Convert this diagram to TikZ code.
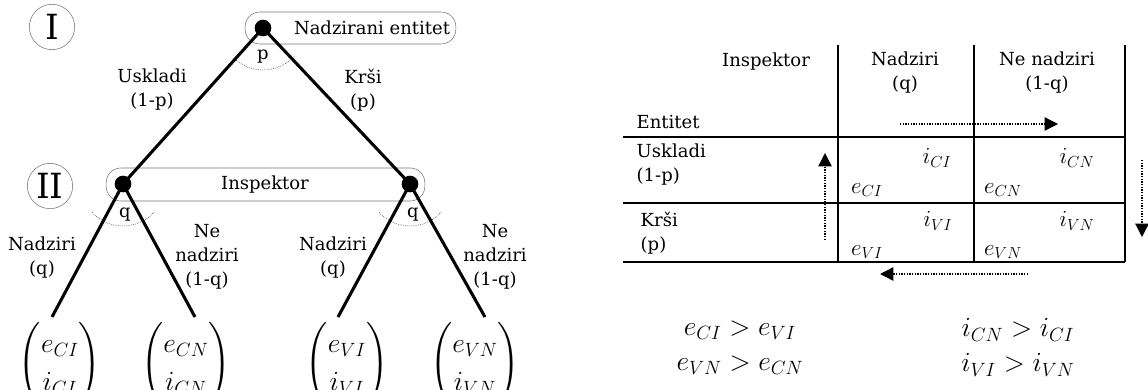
\documentclass[tikz,border=0pt]{standalone}
\usepackage{amsmath,amssymb}
\usepackage{fontspec}
\setmainfont{DejaVu Serif}
\usetikzlibrary{arrows.meta}

\begin{document}
\begin{tikzpicture}[x=0.75pt, y=-0.75pt,
	every node/.style={font=\fontsize{13.5}{18}\selectfont, align=center},
	player/.style={draw=black!55, circle, minimum size=34pt, inner sep=0pt, font=\fontsize{26}{26}\selectfont},
	infobox/.style={draw=black!55, rounded corners=11pt, inner sep=0pt},
	dot/.style={circle, fill=black, inner sep=0pt, minimum size=12.5pt},
	branch/.style={line width=2.3pt},
	turn/.style={densely dotted, thin},
	payoff/.style={font=\fontsize{21}{25}\selectfont},
	rule/.style={line width=1.9pt},
	cell/.style={font=\fontsize{17}{20}\selectfont},
	flow/.style={densely dotted, line width=1pt, -{Triangle[length=10pt, width=10pt]}}]
	\useasboundingbox (0,0) rectangle (1148,389);
	% players
	\node[player] (plI) at (52,27) {I};
	\node[player] (plII) at (50,186) {II};
	\node[infobox, minimum width=158pt, minimum height=24pt] (entbox) at (350.5,28) {};
	\node (entname) at (372,28) {Nadzirani entitet};
	\node[infobox, minimum width=239pt, minimum height=24.75pt] (insbox) at (265.5,184.5) {};
	\node (insname) at (265,185) {Inspektor};
	% decision nodes
	\node[dot] (root) at (263,28) {};
	\node[dot] (insL) at (123,184) {};
	\node[dot] (insR) at (410,184) {};
	\coordinate (endCI) at (52,317);
	\coordinate (endCN) at (195,317);
	\coordinate (endVI) at (338,317);
	\coordinate (endVN) at (485,317);
	\draw[branch] (root.center) -- (insL.center);
	\draw[branch] (root.center) -- (insR.center);
	\draw[branch] (insL.center) -- (endCI);
	\draw[branch] (insL.center) -- (endCN);
	\draw[branch] (insR.center) -- (endVI);
	\draw[branch] (insR.center) -- (endVN);
	\draw[turn] ([shift={(42:42)}]root.center) arc[start angle=42, end angle=136, radius=42];
	\draw[turn] ([shift={(42:42)}]insL.center) arc[start angle=42, end angle=138, radius=42];
	\draw[turn] ([shift={(42:42)}]insR.center) arc[start angle=42, end angle=138, radius=42];
	\node (pr) at (263,57) {p};
	\node (qL) at (125,215) {q};
	\node (qR) at (413,215) {q};
	% branch labels
	\node (comply) at (152,90) {Uskladi\\(1-p)};
	\node (breach) at (363,90) {Krši\\(p)};
	\node (inspL) at (42,258) {Nadziri\\(q)};
	\node (skipL) at (207,257) {Ne\\nadziri\\(1-q)};
	\node (inspR) at (333,258) {Nadziri\\(q)};
	\node (skipR) at (495,257) {Ne\\nadziri\\(1-q)};
	% payoffs
	\node[payoff] (lfCI) at (60,364) {\renewcommand{\arraystretch}{1.12}$\begin{pmatrix} e_{CI}\\ i_{CI}\end{pmatrix}$};
	\node[payoff] (lfCN) at (186,364) {\renewcommand{\arraystretch}{1.12}$\begin{pmatrix} e_{CN}\\ i_{CN}\end{pmatrix}$};
	\node[payoff] (lfVI) at (347,364) {\renewcommand{\arraystretch}{1.12}$\begin{pmatrix} e_{VI}\\ i_{VI}\end{pmatrix}$};
	\node[payoff] (lfVN) at (475,364) {\renewcommand{\arraystretch}{1.12}$\begin{pmatrix} e_{VN}\\ i_{VN}\end{pmatrix}$};
	% normal form
	\draw[rule] (623,137) -- (1125,137);
	\draw[rule] (623,203) -- (1125,203);
	\draw[rule] (623,262) -- (1125,262);
	\draw[rule] (838,45) -- (838,262);
	\draw[rule] (974,45) -- (974,262);
	\draw[rule] (1125,45) -- (1125,262);
	\node (hInsp) at (766,62) {Inspektor};
	\node (hYes) at (905,73) {Nadziri\\(q)};
	\node (hNo) at (1047,73) {Ne nadziri\\(1-q)};
	\node[anchor=west, align=left] (hEnt) at (632,122) {Entitet};
	\node[anchor=west, align=left] (rComply) at (632,165) {Uskladi\\ (1-p)};
	\node[anchor=west, align=left] (rBreach) at (636,233) {Krši\\(p)};
	\node[cell] (iCI) at (937,158) {$i_{CI}$};
	\node[cell] (iCN) at (1077,158) {$i_{CN}$};
	\node[cell] (eCI) at (867,190) {$e_{CI}$};
	\node[cell] (eCN) at (1003,190) {$e_{CN}$};
	\node[cell] (iVI) at (938,221) {$i_{VI}$};
	\node[cell] (iVN) at (1077,221) {$i_{VN}$};
	\node[cell] (eVI) at (867,252) {$e_{VI}$};
	\node[cell] (eVN) at (1003,252) {$e_{VN}$};
	\coordinate (fR0) at (900,124);   \coordinate (fR1) at (1058,124);
	\coordinate (fD0) at (1142,160);  \coordinate (fD1) at (1142,237);
	\coordinate (fL0) at (1028,274);  \coordinate (fL1) at (880,274);
	\coordinate (fU0) at (825,240);   \coordinate (fU1) at (825,153);
	\draw[flow] (fR0) -- (fR1);
	\draw[flow] (fD0) -- (fD1);
	\draw[flow] (fL0) -- (fL1);
	\draw[flow] (fU0) -- (fU1);
	% conditions
	\node[payoff] (cE1) at (740,330) {$e_{CI} > e_{VI}$};
	\node[payoff] (cI1) at (1018,330) {$i_{CN} > i_{CI}$};
	\node[payoff] (cE2) at (740,365) {$e_{VN} > e_{CN}$};
	\node[payoff] (cI2) at (1018,365) {$i_{VI} > i_{VN}$};
\end{tikzpicture}
\end{document}
